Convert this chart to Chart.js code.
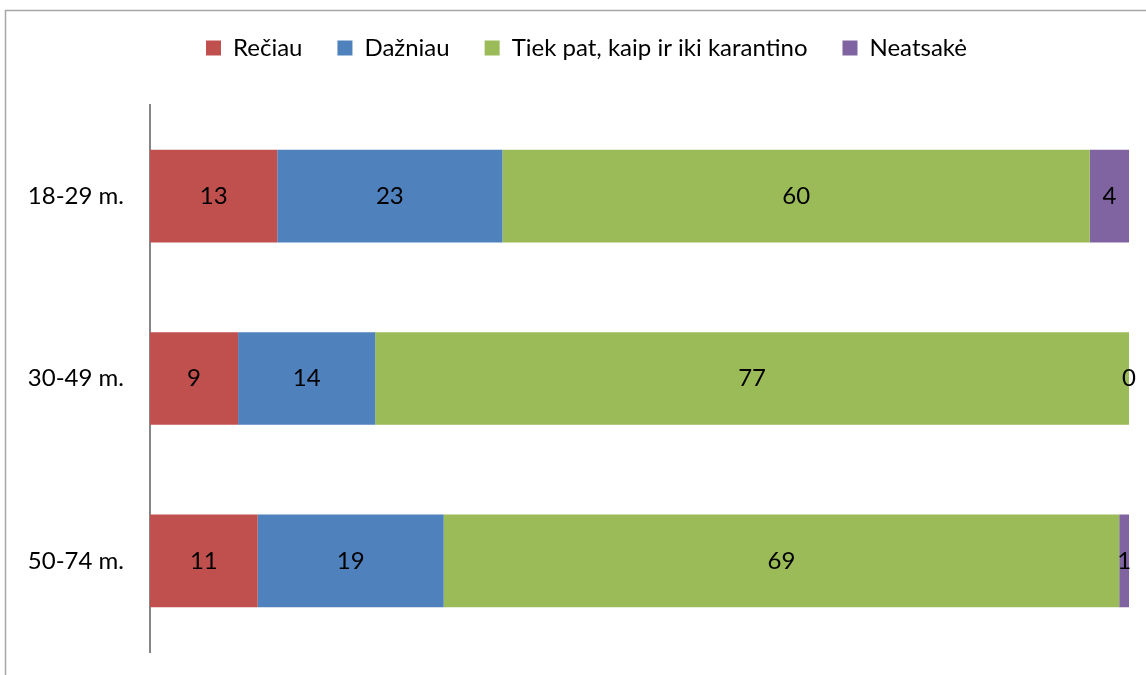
<!DOCTYPE html>
<html>
<head>
<meta charset="utf-8">
<script src="https://cdn.jsdelivr.net/npm/chart.js@4/dist/chart.umd.min.js"></script>
<style>
  html, body { margin: 0; padding: 0; background: #fff; }
  #wrap { width: 1146px; height: 675px; position: relative; }
</style>
</head>
<body>
<div id="wrap"><canvas id="chart" width="1146" height="675"></canvas></div>
<script>
const categories = ["18-29 m.", "30-49 m.", "50-74 m."];
const seriesNames = ["Rečiau", "Dažniau", "Tiek pat, kaip ir iki karantino", "Neatsakė"];
const retiau = [13, 9, 11];
const dazniau = [23, 14, 19];
const tiekPat = [60, 77, 69];
const neatsake = [4, 0, 1];
const colors = ["#C0504D", "#4F81BD", "#9BBB59", "#8064A2"];

const FONT = "Lato, 'Open Sans', sans-serif";
const FSIZE = 24;

// frame around the chart, like the exported picture
const framePlugin = {
  id: "frame",
  beforeDraw(chart) {
    const c = chart.ctx;
    c.save();
    c.strokeStyle = "#a6a6a6";
    c.lineWidth = 1.5;
    c.strokeRect(5.5, 10.5, 1160, 700);
    c.restore();
  }
};

// extra room under the legend, and legend nudged right
const legendGap = {
  id: "legendGap",
  beforeInit(chart) {
    const fit = chart.legend.fit;
    chart.legend.fit = function () {
      fit.bind(chart.legend)();
      this.height += 35;
    };
  },
  afterLayout(chart) {
    chart.legend.left += 22;
    chart.legend.right += 22;
  }
};

// numbers inside every segment
const valueLabels = {
  id: "valueLabels",
  afterDatasetsDraw(chart) {
    const c = chart.ctx;
    c.save();
    c.font = FSIZE + "px " + FONT;
    c.fillStyle = "#000";
    c.textAlign = "center";
    c.textBaseline = "middle";
    chart.data.datasets.forEach((ds, i) => {
      chart.getDatasetMeta(i).data.forEach((bar, j) => {
        const x = (bar.x + bar.base) / 2;
        c.fillText(String(ds.data[j]), x, bar.y);
      });
    });
    c.restore();
  }
};

const allData = [retiau, dazniau, tiekPat, neatsake];

new Chart(document.getElementById("chart"), {
  type: "bar",
  data: {
    labels: categories,
    datasets: seriesNames.map((name, i) => ({
      label: name,
      data: allData[i],
      backgroundColor: colors[i],
      borderWidth: 0,
      categoryPercentage: 1,
      barPercentage: 0.508
    }))
  },
  options: {
    indexAxis: "y",
    responsive: false,
    animation: false,
    layout: { padding: { left: 0, right: 17, top: 1, bottom: 23 } },
    plugins: {
      legend: {
        position: "top",
        labels: {
          font: { family: FONT, size: FSIZE },
          color: "#000",
          boxWidth: 15,
          boxHeight: 15,
          padding: 35
        }
      },
      tooltip: { enabled: false }
    },
    scales: {
      x: {
        stacked: true,
        min: 0,
        max: 100,
        display: false
      },
      y: {
        stacked: true,
        afterFit(s) {
          s.width = 150;
          s.paddingTop = 0;
          s.paddingBottom = 0;
        },
        grid: { display: false, drawTicks: false },
        border: { display: true, color: "#868686", width: 2 },
        ticks: {
          font: { family: FONT, size: FSIZE },
          color: "#000",
          padding: 26
        }
      }
    }
  },
  plugins: [framePlugin, legendGap, valueLabels]
});
</script>
</body>
</html>
